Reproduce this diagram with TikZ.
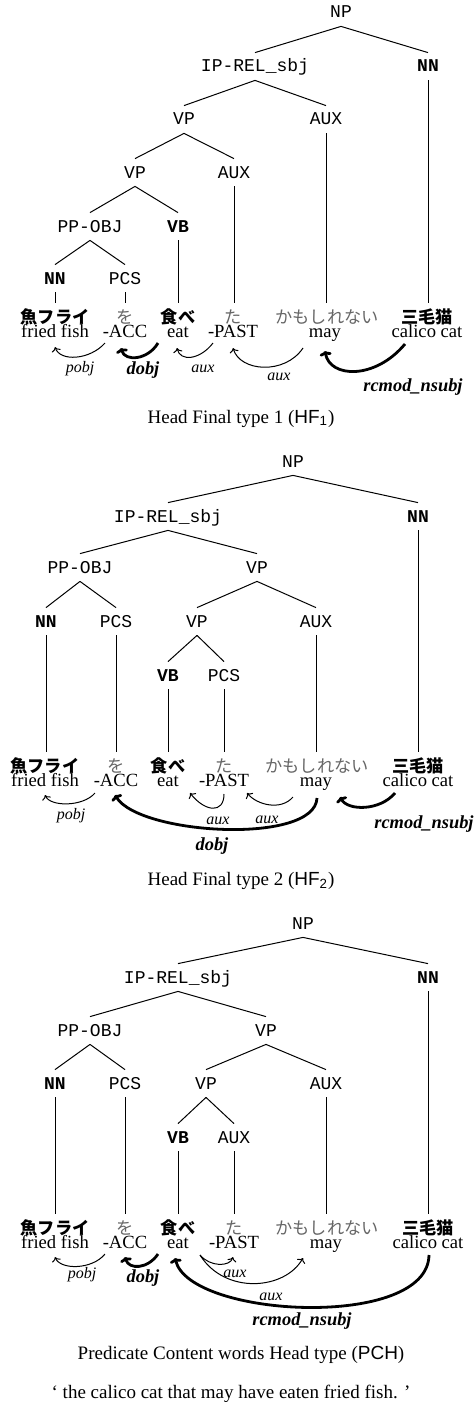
\documentclass[tikz,border=0pt]{standalone}
\usepackage{fontspec}
\setmainfont{Liberation Serif}
\setsansfont{Liberation Sans}
\setmonofont{Liberation Mono}
\newfontfamily\jpfont{Noto Sans CJK JP}
\usetikzlibrary{arrows.meta,calc}
\tikzset{
  cat/.style={anchor=base, font=\fontsize{9}{10}\ttfamily, text height=5.5pt, text depth=0pt, inner xsep=1pt, inner ysep=4pt},
  catb/.style={cat, font=\fontsize{9}{10}\ttfamily\bfseries},
  jw/.style={anchor=base, font=\fontsize{8.6}{10}\jpfont\bfseries, text height=7.5pt, text depth=0pt, inner xsep=0pt, inner ysep=2.5pt},
  jf/.style={jw, font=\fontsize{8.6}{10}\jpfont, text=black!60},
  ew/.style={anchor=base, font=\fontsize{9.3}{10}\selectfont, inner sep=0pt},
  tree/.style={line width=0.5pt},
  arc/.style={line width=0.5pt, -{To[length=2.2pt,width=4.6pt]}},
  arcb/.style={line width=1.4pt, -{To[length=2.4pt,width=6pt]}},
  lab/.style={anchor=base, font=\fontsize{8}{10}\itshape, inner sep=0pt},
  labb/.style={anchor=base, font=\fontsize{9.2}{10}\bfseries\itshape, inner sep=0pt},
  capt/.style={anchor=base, font=\fontsize{9.5}{11}\selectfont, inner sep=0pt},
}
\begin{document}
\begin{tikzpicture}[x=0.5pt, y=-0.5pt]
\useasboundingbox (0,0) rectangle (473,1402);

% ================= Panel A : HF1 =================
\node[cat]  (aNP)   at (341,18)  {NP};
\node[cat]  (aIP)   at (255,72)  {IP-REL\_sbj};
\node[catb] (aNNr)  at (428,72)  {NN};
\node[cat]  (aVP)   at (184,125) {VP};
\node[cat]  (aAUX)  at (326,125) {AUX};
\node[cat]  (aVPb)  at (135,178) {VP};
\node[cat]  (aAUXb) at (234,178) {AUX};
\node[cat]  (aPP)   at (90,232)  {PP-OBJ};
\node[catb] (aVB)   at (178,232) {VB};
\node[catb] (aNN)   at (55,284)  {NN};
\node[cat]  (aPCS)  at (125,284) {PCS};

\node[jw] (aJ1) at (55,323)  {魚フライ};
\node[jf] (aJ2) at (125,323) {を};
\node[jw] (aJ3) at (178,323) {食べ};
\node[jf] (aJ4) at (233,323) {た};
\node[jf] (aJ5) at (327,323) {かもしれない};
\node[jw] (aJ6) at (427,323) {三毛猫};
\node[ew] (aE1) at (55,337)  {fried fish};
\node[ew] (aE2) at (125,337) {-ACC};
\node[ew] (aE3) at (178,337) {eat};
\node[ew] (aE4) at (233,337) {-PAST};
\node[ew] (aE5) at (325,337) {may};
\node[ew] (aE6) at (427,337) {calico cat};

\draw[tree] (aNP.south) -- (aIP.north);
\draw[tree] (aNP.south) -- (aNNr.north);
\draw[tree] (aIP.south) -- (aVP.north);
\draw[tree] (aIP.south) -- (aAUX.north);
\draw[tree] (aVP.south) -- (aVPb.north);
\draw[tree] (aVP.south) -- (aAUXb.north);
\draw[tree] (aVPb.south) -- (aPP.north);
\draw[tree] (aVPb.south) -- (aVB.north);
\draw[tree] (aPP.south) -- (aNN.north);
\draw[tree] (aPP.south) -- (aPCS.north);
\draw[tree] (aNN.south) -- (aNN.south |- aJ1.north);
\draw[tree] (aPCS.south) -- (aPCS.south |- aJ2.north);
\draw[tree] (aVB.south) -- (aVB.south |- aJ3.north);
\draw[tree] (aAUXb.south) -- (aAUXb.south |- aJ4.north);
\draw[tree] (aAUX.south) -- (aAUX.south |- aJ5.north);
\draw[tree] (aNNr.south) -- (aNNr.south |- aJ6.north);

\draw[arc]  ($(aE2.base)+(-20,6)$) .. controls +(-15,17) and +(5,15) .. ($(aE1.base)+(0,10)$);
\draw[arcb] ($(aE3.base)+(-20,6)$) .. controls +(-10,17) and +(4,14) .. ($(aE2.base)+(-4,11)$);
\draw[arc]  ($(aE4.base)+(-20,6)$) .. controls +(-13,17) and +(3,14) .. ($(aE3.base)+(-1,11)$);
\draw[arc]  ($(aE5.base)+(-22,11)$) .. controls +(-18,27) and +(7,24) .. ($(aE4.base)+(0,11)$);
\draw[arcb] ($(aE6.base)+(-22,7)$) .. controls +(-30,36) and +(5,27) .. ($(aE5.base)+(0,14)$);

\node[lab]  (aL1) at (80,372)  {pobj};
\node[labb] (aL2) at (143,374) {dobj};
\node[lab]  (aL3) at (203,372) {aux};
\node[lab]  (aL4) at (279,380) {aux};
\node[labb] (aL5) at (413,391) {rcmod\_nsubj};
\node[capt] (aC) at (241,423) {Head Final type 1 (\textsf{HF}\textsubscript{\textsf{1}})};

% ================= Panel B : HF2 =================
\node[cat]  (bNP)   at (293,467) {NP};
\node[cat]  (bIP)   at (168,522) {IP-REL\_sbj};
\node[catb] (bNNr)  at (418,522) {NN};
\node[cat]  (bPP)   at (80,573)  {PP-OBJ};
\node[cat]  (bVP)   at (257,573) {VP};
\node[catb] (bNN)   at (46,627)  {NN};
\node[cat]  (bPCS)  at (116,627) {PCS};
\node[cat]  (bVPb)  at (197,627) {VP};
\node[cat]  (bAUX)  at (316,627) {AUX};
\node[catb] (bVB)   at (168,681) {VB};
\node[cat]  (bPCSb) at (224,681) {PCS};

\node[jw] (bJ1) at (45,772)  {魚フライ};
\node[jf] (bJ2) at (116,772) {を};
\node[jw] (bJ3) at (168,772) {食べ};
\node[jf] (bJ4) at (224,772) {た};
\node[jf] (bJ5) at (317,772) {かもしれない};
\node[jw] (bJ6) at (418,772) {三毛猫};
\node[ew] (bE1) at (45,786)  {fried fish};
\node[ew] (bE2) at (116,786) {-ACC};
\node[ew] (bE3) at (168,786) {eat};
\node[ew] (bE4) at (224,786) {-PAST};
\node[ew] (bE5) at (316,786) {may};
\node[ew] (bE6) at (418,786) {calico cat};

\draw[tree] (bNP.south) -- (bIP.north);
\draw[tree] (bNP.south) -- (bNNr.north);
\draw[tree] (bIP.south) -- (bPP.north);
\draw[tree] (bIP.south) -- (bVP.north);
\draw[tree] (bPP.south) -- (bNN.north);
\draw[tree] (bPP.south) -- (bPCS.north);
\draw[tree] (bVP.south) -- (bVPb.north);
\draw[tree] (bVP.south) -- (bAUX.north);
\draw[tree] (bVPb.south) -- (bVB.north);
\draw[tree] (bVPb.south) -- (bPCSb.north);
\draw[tree] (bNN.south) -- (bNN.south |- bJ1.north);
\draw[tree] (bPCS.south) -- (bPCS.south |- bJ2.north);
\draw[tree] (bVB.south) -- (bVB.south |- bJ3.north);
\draw[tree] (bPCSb.south) -- (bPCSb.south |- bJ4.north);
\draw[tree] (bAUX.south) -- (bAUX.south |- bJ5.north);
\draw[tree] (bNNr.south) -- (bNNr.south |- bJ6.north);

\draw[arc]  ($(bE2.base)+(-21,7)$) .. controls +(-12,14) and +(5,12) .. ($(bE1.base)+(0,9)$);
\draw[arcb] ($(bE5.base)+(1,12)$) .. controls +(-2,47) and +(25,40) .. ($(bE2.base)+(-1,9)$);
\draw[arc]  ($(bE4.base)+(0,8)$) .. controls +(0,20) and +(15,19) .. ($(bE4.base)+(-34,7)$);
\draw[arc]  ($(bE5.base)+(-23,11)$) .. controls +(-12,14) and +(10,12) .. ($(bE4.base)+(23,7)$);
\draw[arcb] ($(bE6.base)+(-23,7)$) .. controls +(-15,18) and +(8,14) .. ($(bE5.base)+(24,11)$);

\node[lab]  (bL1) at (71,819)  {pobj};
\node[lab]  (bL2) at (218,824) {aux};
\node[lab]  (bL3) at (267,823) {aux};
\node[labb] (bL4) at (212,850) {dobj};
\node[labb] (bL5) at (424,828) {rcmod\_nsubj};
\node[capt] (bC) at (241,885) {Head Final type 2 (\textsf{HF}\textsubscript{\textsf{2}})};

% ================= Panel C : PCH =================
\node[cat]  (cNP)   at (303,929)  {NP};
\node[cat]  (cIP)   at (178,983)  {IP-REL\_sbj};
\node[catb] (cNNr)  at (428,983)  {NN};
\node[cat]  (cPP)   at (90,1036)  {PP-OBJ};
\node[cat]  (cVP)   at (266,1036) {VP};
\node[catb] (cNN)   at (55,1089)  {NN};
\node[cat]  (cPCS)  at (125,1089) {PCS};
\node[cat]  (cVPb)  at (206,1089) {VP};
\node[cat]  (cAUX)  at (326,1089) {AUX};
\node[catb] (cVB)   at (178,1143) {VB};
\node[cat]  (cAUXb) at (234,1143) {AUX};

\node[jw] (cJ1) at (55,1234)  {魚フライ};
\node[jf] (cJ2) at (125,1234) {を};
\node[jw] (cJ3) at (178,1234) {食べ};
\node[jf] (cJ4) at (234,1234) {た};
\node[jf] (cJ5) at (327,1234) {かもしれない};
\node[jw] (cJ6) at (428,1234) {三毛猫};
\node[ew] (cE1) at (55,1248)  {fried fish};
\node[ew] (cE2) at (125,1248) {-ACC};
\node[ew] (cE3) at (178,1248) {eat};
\node[ew] (cE4) at (234,1248) {-PAST};
\node[ew] (cE5) at (326,1248) {may};
\node[ew] (cE6) at (428,1248) {calico cat};

\draw[tree] (cNP.south) -- (cIP.north);
\draw[tree] (cNP.south) -- (cNNr.north);
\draw[tree] (cIP.south) -- (cPP.north);
\draw[tree] (cIP.south) -- (cVP.north);
\draw[tree] (cPP.south) -- (cNN.north);
\draw[tree] (cPP.south) -- (cPCS.north);
\draw[tree] (cVP.south) -- (cVPb.north);
\draw[tree] (cVP.south) -- (cAUX.north);
\draw[tree] (cVPb.south) -- (cVB.north);
\draw[tree] (cVPb.south) -- (cAUXb.north);
\draw[tree] (cNN.south) -- (cNN.south |- cJ1.north);
\draw[tree] (cPCS.south) -- (cPCS.south |- cJ2.north);
\draw[tree] (cVB.south) -- (cVB.south |- cJ3.north);
\draw[tree] (cAUXb.south) -- (cAUXb.south |- cJ4.north);
\draw[tree] (cAUX.south) -- (cAUX.south |- cJ5.north);
\draw[tree] (cNNr.south) -- (cNNr.south |- cJ6.north);

\draw[arc]  ($(cE2.base)+(-20,6)$) .. controls +(-13,16) and +(5,13) .. ($(cE1.base)+(0,9)$);
\draw[arcb] ($(cE3.base)+(-20,6)$) .. controls +(-10,15) and +(4,13) .. ($(cE2.base)+(0,9)$);
\draw[arc]  ($(cE3.base)+(22,7)$) .. controls +(10,12) and +(-3,10) .. ($(cE4.base)+(-1,9)$);
\draw[arc]  ($(cE3.base)+(22,7)$) .. controls +(25,40) and +(-18,32) .. ($(cE5.base)+(-23,10)$);
\draw[arcb] ($(cE6.base)+(1,7)$) .. controls +(-1,75) and +(15,60) .. ($(cE3.base)+(-3,10)$);

\node[lab]  (cL1) at (82,1278)  {pobj};
\node[labb] (cL2) at (143,1282) {dobj};
\node[lab]  (cL3) at (235,1277) {aux};
\node[lab]  (cL4) at (271,1300) {aux};
\node[labb] (cL5) at (302,1325) {rcmod\_nsubj};
\node[capt] (cC) at (241,1359) {Predicate Content words Head type (\textsf{PCH})};
\node[capt] (gloss) at (231,1398) {‘ the calico cat that may have eaten fried fish. ’};
\end{tikzpicture}
\end{document}
